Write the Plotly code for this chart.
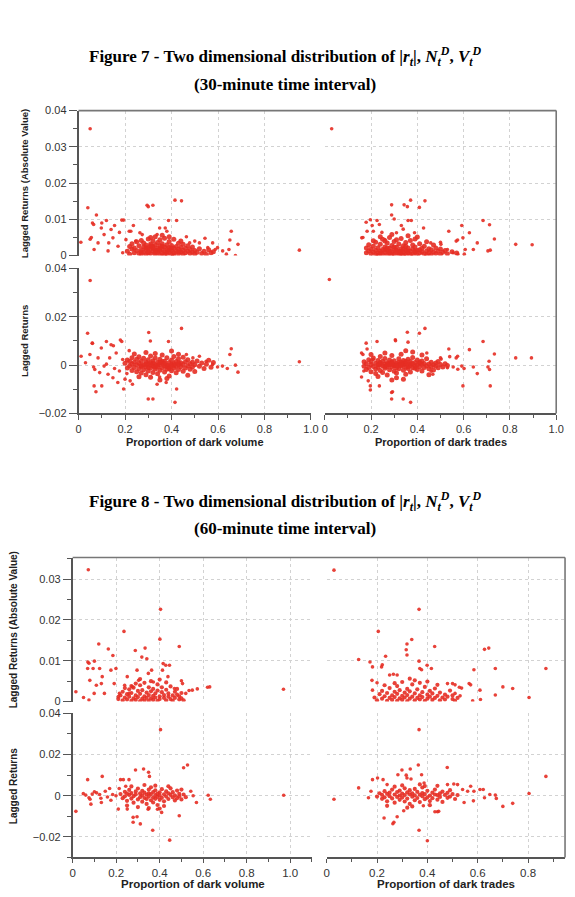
import plotly.graph_objects as go

W, H = 575, 897
RED = "rgb(230,45,35)"

# ---------------- DATA ----------------
# Figure 7 (30-minute), |r| vs proportion of dark volume
f7_vol_abs_out = [
(0.01,0.0037),(0.04,0.0132),(0.05,0.0350),(0.05,0.0045),(0.055,0.0050),(0.06,0.0090),(0.065,0.0086),(0.077,0.0112),(0.067,0.0017),(0.084,0.0035),
(0.098,0.0076),(0.10,0.0090),(0.11,0.0058),(0.12,0.0097),(0.127,0.0013),(0.13,0.0035),(0.14,0.0072),(0.148,0.0049),(0.155,0.0083),(0.17,0.0026),
(0.176,0.0064),(0.186,0.0098),(0.194,0.0098),(0.19,0.0008),(0.204,0.0044),(0.218,0.0067),(0.225,0.0067),(0.236,0.0083),(0.246,0.0040),(0.264,0.0063),
(0.274,0.0058),(0.295,0.0139),(0.30,0.0135),(0.307,0.0101),(0.32,0.0139),(0.338,0.0058),(0.349,0.0076),(0.373,0.0076),(0.387,0.0097),(0.38,0.0067),
(0.415,0.0153),(0.443,0.0151),(0.422,0.0097),(0.464,0.0052),(0.478,0.0035),(0.50,0.0040),(0.52,0.0035),(0.544,0.0048),(0.556,0.0022),(0.577,0.0035),
(0.588,0.0017),(0.598,0.0022),(0.62,0.0013),(0.636,0.0004),(0.647,0.0017),(0.651,0.0043),(0.657,0.0067),(0.675,0.0),(0.686,0.0031),(0.95,0.0015),
]
f7_vol_abs_core = [
(0.21,0.0012),(0.22,0.0025),(0.22,0.0004),(0.23,0.0018),(0.23,0.0033),(0.24,0.0008),(0.24,0.0021),(0.25,0.0014),(0.25,0.0038),(0.26,0.0006),
(0.26,0.0027),(0.27,0.0016),(0.27,0.0042),(0.28,0.0009),(0.28,0.0024),(0.28,0.0035),(0.29,0.0003),(0.29,0.0017),(0.29,0.0029),(0.30,0.0011),
(0.30,0.0022),(0.30,0.0046),(0.31,0.0006),(0.31,0.0019),(0.31,0.0032),(0.32,0.0013),(0.32,0.0026),(0.32,0.0041),(0.33,0.0004),(0.33,0.0016),
(0.33,0.0030),(0.33,0.0052),(0.34,0.0009),(0.34,0.0021),(0.34,0.0036),(0.35,0.0002),(0.35,0.0014),(0.35,0.0027),(0.35,0.0044),(0.36,0.0007),
(0.36,0.0019),(0.36,0.0033),(0.37,0.0011),(0.37,0.0024),(0.37,0.0048),(0.38,0.0005),(0.38,0.0017),(0.38,0.0030),(0.39,0.0009),(0.39,0.0022),
(0.39,0.0039),(0.40,0.0003),(0.40,0.0014),(0.40,0.0028),(0.41,0.0008),(0.41,0.0020),(0.41,0.0045),(0.42,0.0012),(0.42,0.0025),(0.43,0.0005),
(0.43,0.0018),(0.43,0.0034),(0.44,0.0010),(0.44,0.0023),(0.45,0.0004),(0.45,0.0015),(0.45,0.0031),(0.46,0.0008),(0.46,0.0020),(0.47,0.0012),
(0.47,0.0027),(0.48,0.0006),(0.48,0.0017),(0.49,0.0010),(0.49,0.0024),(0.50,0.0004),(0.50,0.0014),(0.51,0.0009),(0.52,0.0019),(0.53,0.0006),
(0.54,0.0012),(0.55,0.0003),(0.56,0.0016),(0.57,0.0008),(0.58,0.0011),(0.36,0.0056),(0.31,0.0050),(0.39,0.0052),(0.27,0.0005),(0.44,0.0040),
(0.30,0.0008),(0.32,0.0020),(0.34,0.0014),(0.36,0.0026),(0.38,0.0011),(0.33,0.0009),(0.35,0.0019),(0.37,0.0003),(0.31,0.0027),(0.39,0.0016),
(0.41,0.0002),(0.29,0.0022),(0.27,0.0010),(0.43,0.0011),(0.40,0.0021),
]

# Figure 7, r vs proportion of dark volume
f7_vol_ret_out = [
(0.011,0.0037),(0.039,0.0132),(0.05,0.0350),(0.049,0.0044),(0.059,0.0091),(0.065,-0.0008),(0.07,-0.0018),(0.067,-0.0086),(0.075,-0.0110),(0.084,0.0030),
(0.091,-0.0031),(0.098,0.0071),(0.10,-0.0086),(0.11,-0.0004),(0.12,0.0004),(0.12,0.0098),(0.127,-0.0038),(0.134,0.0030),(0.14,0.0084),(0.148,-0.0052),
(0.155,-0.0014),(0.162,0.0050),(0.169,-0.0072),(0.176,-0.0024),(0.186,0.0098),(0.19,0.0023),(0.194,-0.0099),(0.20,-0.0058),(0.208,-0.0035),(0.218,0.0060),
(0.222,-0.0065),(0.232,-0.0079),(0.302,0.0135),(0.309,0.0100),(0.30,-0.0140),(0.32,-0.0140),(0.387,0.0098),(0.443,0.0152),(0.415,-0.0154),(0.422,-0.0099),
(0.377,-0.0072),(0.338,-0.0079),(0.349,-0.0049),(0.464,0.0044),(0.492,0.0030),(0.52,0.0037),(0.549,0.0016),(0.577,0.0003),(0.598,-0.0008),(0.619,-0.0004),
(0.64,-0.0014),(0.651,0.0044),(0.657,0.0068),(0.675,0.0),(0.686,-0.0029),(0.95,0.0014),(0.18,0.0104),(0.15,0.0080),(0.06,0.0090),(0.03,0.0010),
]
f7_vol_ret_core = [
(0.20,0.0008),(0.21,-0.0012),(0.21,0.0021),(0.22,-0.0004),(0.22,0.0015),(0.23,-0.0022),(0.23,0.0005),(0.23,0.0031),(0.24,-0.0010),(0.24,0.0012),
(0.25,-0.0027),(0.25,0.0002),(0.25,0.0024),(0.26,-0.0015),(0.26,0.0009),(0.26,0.0035),(0.27,-0.0006),(0.27,0.0017),(0.27,-0.0033),(0.28,0.0001),
(0.28,-0.0019),(0.28,0.0028),(0.29,-0.0008),(0.29,0.0013),(0.29,-0.0040),(0.30,0.0004),(0.30,-0.0024),(0.30,0.0022),(0.31,-0.0012),(0.31,0.0010),
(0.31,0.0038),(0.32,-0.0003),(0.32,-0.0030),(0.32,0.0018),(0.33,0.0002),(0.33,-0.0016),(0.33,0.0029),(0.34,-0.0008),(0.34,0.0012),(0.34,-0.0036),
(0.35,0.0003),(0.35,-0.0021),(0.35,0.0024),(0.36,-0.0011),(0.36,0.0008),(0.36,0.0042),(0.37,-0.0004),(0.37,-0.0028),(0.37,0.0016),(0.38,0.0001),
(0.38,-0.0017),(0.38,0.0031),(0.39,-0.0009),(0.39,0.0011),(0.39,-0.0045),(0.40,0.0004),(0.40,-0.0023),(0.40,0.0021),(0.41,-0.0013),(0.41,0.0007),
(0.41,0.0036),(0.42,-0.0005),(0.42,0.0015),(0.42,-0.0032),(0.43,0.0002),(0.43,-0.0018),(0.43,0.0026),(0.44,-0.0007),(0.44,0.0010),(0.45,-0.0025),
(0.45,0.0003),(0.45,0.0033),(0.46,-0.0012),(0.46,0.0014),(0.47,-0.0003),(0.47,0.0022),(0.48,-0.0017),(0.48,0.0006),(0.49,0.0012),(0.49,-0.0008),
(0.50,0.0002),(0.50,-0.0026),(0.51,0.0017),(0.52,-0.0005),(0.53,0.0009),(0.54,-0.0014),(0.55,0.0004),(0.56,0.0020),(0.57,-0.0009),(0.58,0.0011),
(0.33,0.0048),(0.29,0.0052),(0.38,-0.0055),(0.26,-0.0048),(0.43,0.0045),(0.35,-0.0062),(0.31,-0.0050),(0.40,0.0058),(0.47,-0.0042),(0.24,0.0046),
(0.30,-0.0010),(0.32,0.0009),(0.34,-0.0001),(0.36,0.0015),(0.38,-0.0006),(0.33,-0.0008),(0.35,0.0011),(0.37,0.0007),(0.31,0.0002),(0.39,-0.0015),
(0.41,0.0001),(0.29,0.0005),(0.27,-0.0002),(0.43,0.0009),(0.40,-0.0005),
]

# Figure 7, |r| vs proportion of dark trades
f7_trd_abs_out = [
(0.03,0.0350),(0.16,0.0049),(0.165,0.0050),(0.179,0.0092),(0.183,0.0067),(0.197,0.0099),(0.205,0.0083),(0.21,0.0067),(0.226,0.0097),(0.236,0.0086),
(0.247,0.0064),(0.26,0.0044),(0.289,0.0140),(0.289,0.0112),(0.30,0.0101),(0.31,0.0063),(0.331,0.0083),(0.343,0.0140),(0.357,0.0135),(0.36,0.0097),
(0.374,0.0097),(0.371,0.0153),(0.339,0.0073),(0.388,0.0063),(0.409,0.0133),(0.433,0.0151),(0.427,0.0076),(0.458,0.0035),(0.50,0.0037),(0.502,0.0031),
(0.536,0.0067),(0.568,0.0040),(0.574,0.0043),(0.592,0.0083),(0.597,0.0049),(0.607,0.0017),(0.603,0.0004),(0.625,0.0063),(0.642,0.0017),(0.659,0.0035),
(0.684,0.0097),(0.705,0.0013),(0.712,0.0085),(0.715,0.0015),(0.733,0.0046),(0.825,0.0031),(0.896,0.0030),(0.53,0.0017),(0.555,0.0008),(0.575,0.0004),
]
f7_trd_abs_core = [
(0.18,0.0008),(0.18,0.0021),(0.19,0.0013),(0.19,0.0030),(0.20,0.0005),(0.20,0.0018),(0.21,0.0010),(0.21,0.0026),(0.22,0.0003),(0.22,0.0015),
(0.22,0.0037),(0.23,0.0008),(0.23,0.0022),(0.24,0.0012),(0.24,0.0031),(0.25,0.0004),(0.25,0.0017),(0.25,0.0045),(0.26,0.0009),(0.26,0.0024),
(0.27,0.0002),(0.27,0.0014),(0.27,0.0035),(0.28,0.0007),(0.28,0.0020),(0.28,0.0050),(0.29,0.0011),(0.29,0.0028),(0.30,0.0004),(0.30,0.0016),
(0.30,0.0039),(0.31,0.0009),(0.31,0.0023),(0.32,0.0002),(0.32,0.0013),(0.32,0.0032),(0.33,0.0006),(0.33,0.0019),(0.33,0.0047),(0.34,0.0010),
(0.34,0.0027),(0.35,0.0003),(0.35,0.0015),(0.35,0.0036),(0.36,0.0008),(0.36,0.0021),(0.37,0.0012),(0.37,0.0042),(0.38,0.0004),(0.38,0.0018),
(0.38,0.0029),(0.39,0.0009),(0.39,0.0024),(0.40,0.0002),(0.40,0.0014),(0.40,0.0051),(0.41,0.0007),(0.41,0.0033),(0.42,0.0011),(0.42,0.0020),
(0.43,0.0005),(0.43,0.0026),(0.44,0.0013),(0.44,0.0038),(0.45,0.0008),(0.45,0.0019),(0.46,0.0003),(0.46,0.0016),(0.47,0.0010),(0.47,0.0029),
(0.48,0.0006),(0.48,0.0021),(0.49,0.0012),(0.50,0.0004),(0.50,0.0018),(0.51,0.0009),(0.52,0.0014),(0.53,0.0005),(0.55,0.0011),(0.57,0.0007),
(0.29,0.0058),(0.36,0.0055),(0.24,0.0052),(0.31,0.0044),(0.34,0.0001),(0.26,0.0040),(0.39,0.0046),(0.21,0.0041),(0.44,0.0002),(0.23,0.0001),
(0.26,0.0016),(0.28,0.0012),(0.30,0.0024),(0.32,0.0008),(0.34,0.0018),(0.36,0.0013),(0.24,0.0007),(0.29,0.0003),(0.31,0.0015),(0.33,0.0011),
(0.35,0.0026),(0.37,0.0002),(0.39,0.0012),(0.27,0.0021),(0.41,0.0016),
]

# Figure 7, r vs proportion of dark trades
f7_trd_ret_out = [
(0.02,0.0354),(0.159,0.0050),(0.165,0.0044),(0.159,-0.0049),(0.169,-0.0024),(0.179,0.0091),(0.188,-0.0065),(0.197,-0.0086),(0.197,-0.0103),(0.226,0.0098),
(0.236,-0.0086),(0.21,0.0023),(0.289,-0.0113),(0.289,-0.0140),(0.306,0.0101),(0.339,-0.0140),(0.357,0.0136),(0.36,0.0095),(0.371,-0.0154),(0.409,0.0132),
(0.433,0.0152),(0.441,0.0050),(0.46,-0.0025),(0.467,-0.0038),(0.50,0.0030),(0.503,0.0025),(0.536,0.0067),(0.568,0.0030),(0.574,0.0037),(0.592,-0.0004),
(0.597,-0.0086),(0.602,-0.0014),(0.625,0.0064),(0.642,-0.0008),(0.659,-0.0035),(0.684,0.0098),(0.705,-0.0008),(0.71,0.0016),(0.712,-0.0018),(0.715,-0.0086),
(0.733,0.0046),(0.825,0.0030),(0.893,0.0030),(0.53,-0.0011),(0.555,-0.0008),(0.575,-0.0017),(0.183,0.0067),(0.305,0.0105),(0.293,-0.0110),(0.54,0.0035),
]
f7_trd_ret_core = [
(0.17,-0.0005),(0.17,0.0014),(0.18,-0.0018),(0.18,0.0006),(0.19,0.0022),(0.19,-0.0010),(0.20,0.0003),(0.20,-0.0027),(0.20,0.0015),(0.21,-0.0006),
(0.21,0.0030),(0.22,0.0008),(0.22,-0.0016),(0.22,-0.0035),(0.23,0.0002),(0.23,0.0019),(0.23,-0.0009),(0.24,0.0011),(0.24,-0.0022),(0.24,0.0036),
(0.25,-0.0003),(0.25,0.0016),(0.25,-0.0030),(0.26,0.0005),(0.26,-0.0013),(0.26,0.0027),(0.27,-0.0006),(0.27,0.0010),(0.27,-0.0041),(0.28,0.0002),
(0.28,0.0021),(0.28,-0.0019),(0.29,-0.0008),(0.29,0.0013),(0.29,0.0040),(0.30,0.0001),(0.30,-0.0025),(0.30,0.0018),(0.31,-0.0011),(0.31,0.0007),
(0.31,-0.0033),(0.32,0.0004),(0.32,0.0026),(0.32,-0.0015),(0.33,-0.0004),(0.33,0.0012),(0.33,0.0045),(0.34,0.0000),(0.34,-0.0021),(0.34,0.0019),
(0.35,-0.0009),(0.35,0.0008),(0.35,-0.0038),(0.36,0.0003),(0.36,0.0024),(0.36,-0.0014),(0.37,-0.0002),(0.37,0.0015),(0.37,-0.0028),(0.38,0.0006),
(0.38,-0.0011),(0.38,0.0032),(0.39,-0.0004),(0.39,0.0011),(0.40,-0.0018),(0.40,0.0002),(0.40,0.0021),(0.41,-0.0007),(0.41,0.0009),(0.42,-0.0024),
(0.42,0.0004),(0.42,0.0017),(0.43,-0.0010),(0.43,0.0007),(0.44,-0.0003),(0.44,0.0026),(0.45,-0.0015),(0.45,0.0005),(0.46,0.0012),(0.46,-0.0006),
(0.47,0.0002),(0.47,-0.0020),(0.48,0.0009),(0.48,-0.0004),(0.49,0.0015),(0.49,-0.0011),(0.50,0.0003),(0.51,-0.0008),(0.52,0.0006),(0.53,-0.0002),
(0.26,0.0050),(0.31,-0.0052),(0.38,0.0054),(0.23,-0.0047),(0.35,0.0060),(0.29,-0.0062),(0.42,0.0042),(0.20,0.0044),(0.45,-0.0040),(0.34,-0.0058),
(0.26,-0.0006),(0.28,0.0009),(0.30,-0.0003),(0.32,0.0011),(0.34,0.0008),(0.36,-0.0007),(0.24,0.0003),(0.29,0.0005),(0.31,-0.0002),(0.33,0.0001),
(0.35,0.0016),(0.37,0.0006),(0.39,-0.0013),(0.27,0.0002),(0.41,0.0013),
]

# Figure 8 (60-minute), |r| vs proportion of dark volume
f8_vol_abs_out = [
(0.015,0.0024),(0.05,0.0010),(0.07,0.0097),(0.075,0.0094),(0.069,0.0081),(0.072,0.0323),(0.079,0.0052),(0.075,0.0004),(0.094,0.0081),(0.10,0.0099),
(0.109,0.0040),(0.099,0.0020),(0.12,0.0141),(0.124,0.0081),(0.132,0.0044),(0.136,0.0061),(0.146,0.0020),(0.164,0.0129),(0.176,0.0077),(0.185,0.0113),
(0.191,0.0044),(0.199,0.0081),(0.21,0.0012),(0.215,0.0020),(0.236,0.0172),(0.239,0.0040),(0.251,0.0061),(0.259,0.0020),(0.274,0.0036),(0.288,0.0125),
(0.296,0.0077),(0.303,0.0052),(0.318,0.0109),(0.333,0.0131),(0.341,0.0105),(0.348,0.0069),(0.363,0.0077),(0.371,0.0048),(0.404,0.0226),(0.401,0.0153),
(0.416,0.0093),(0.428,0.0089),(0.445,0.0089),(0.413,0.0077),(0.438,0.0061),(0.49,0.0135),(0.50,0.0051),(0.505,0.0044),(0.468,0.0032),(0.52,0.0020),
(0.535,0.0027),(0.55,0.0028),(0.573,0.0031),(0.62,0.0035),(0.63,0.0036),(0.969,0.0030),
]
f8_vol_abs_core = [
(0.21,0.0006),(0.22,0.0015),(0.23,0.0003),(0.23,0.0024),(0.24,0.0010),(0.25,0.0018),(0.25,0.0005),(0.26,0.0030),(0.26,0.0012),(0.27,0.0002),
(0.27,0.0021),(0.28,0.0008),(0.28,0.0034),(0.29,0.0015),(0.29,0.0004),(0.30,0.0026),(0.30,0.0011),(0.31,0.0001),(0.31,0.0019),(0.31,0.0040),
(0.32,0.0007),(0.32,0.0028),(0.33,0.0013),(0.33,0.0003),(0.34,0.0022),(0.34,0.0009),(0.35,0.0035),(0.35,0.0016),(0.35,0.0002),(0.36,0.0025),
(0.36,0.0008),(0.37,0.0014),(0.37,0.0031),(0.37,0.0004),(0.38,0.0020),(0.38,0.0010),(0.39,0.0002),(0.39,0.0027),(0.39,0.0042),(0.40,0.0013),
(0.40,0.0006),(0.41,0.0023),(0.41,0.0035),(0.42,0.0009),(0.42,0.0016),(0.43,0.0003),(0.43,0.0029),(0.44,0.0012),(0.44,0.0020),(0.45,0.0006),
(0.45,0.0037),(0.46,0.0015),(0.46,0.0002),(0.47,0.0024),(0.47,0.0009),(0.48,0.0017),(0.48,0.0031),(0.49,0.0005),(0.49,0.0013),(0.50,0.0021),
(0.50,0.0008),(0.51,0.0003),(0.33,0.0046),(0.29,0.0044),(0.36,0.0050),(0.27,0.0038),(0.43,0.0047),(0.24,0.0033),(0.40,0.0054),(0.31,0.0055),
]

# Figure 8, r vs proportion of dark volume
f8_vol_ret_out = [
(0.015,-0.0076),(0.049,0.0010),(0.069,0.0078),(0.075,-0.0010),(0.08,-0.0017),(0.084,-0.0041),(0.10,0.0019),(0.11,0.0014),(0.124,0.0006),(0.132,-0.0033),
(0.136,0.0094),(0.15,0.0022),(0.16,-0.0006),(0.17,0.0035),(0.176,-0.0022),(0.184,0.0006),(0.199,0.0000),(0.21,-0.0065),(0.214,0.0035),(0.22,0.0078),
(0.233,0.0078),(0.244,0.0046),(0.251,-0.0065),(0.259,0.0078),(0.278,-0.0105),(0.278,-0.0129),(0.289,0.0125),(0.296,-0.0102),(0.311,-0.0137),(0.326,0.0130),
(0.349,0.0114),(0.353,0.0094),(0.368,-0.0168),(0.404,0.0321),(0.409,-0.0081),(0.446,-0.0216),(0.49,-0.0097),(0.51,0.0136),(0.528,0.0149),(0.543,0.0022),
(0.554,0.0000),(0.569,-0.0033),(0.623,0.0002),(0.633,-0.0017),(0.97,0.0002),(0.09,0.0008),(0.13,-0.0012),(0.06,0.0003),(0.39,-0.0066),(0.347,-0.0066),
]
f8_vol_ret_core = [
(0.22,0.0008),(0.23,-0.0012),(0.24,0.0019),(0.24,-0.0003),(0.25,0.0010),(0.25,-0.0025),(0.26,0.0004),(0.26,0.0028),(0.27,-0.0014),(0.27,0.0013),
(0.28,-0.0002),(0.28,-0.0034),(0.29,0.0021),(0.29,0.0006),(0.30,-0.0018),(0.30,0.0035),(0.31,-0.0007),(0.31,0.0011),(0.32,-0.0029),(0.32,0.0002),
(0.32,0.0024),(0.33,-0.0011),(0.33,0.0015),(0.34,-0.0040),(0.34,0.0005),(0.34,-0.0016),(0.35,0.0030),(0.35,-0.0004),(0.35,0.0012),(0.36,-0.0022),
(0.36,0.0008),(0.36,0.0041),(0.37,-0.0009),(0.37,0.0018),(0.37,-0.0033),(0.38,0.0003),(0.38,-0.0015),(0.38,0.0026),(0.39,-0.0006),(0.39,0.0010),
(0.39,-0.0045),(0.40,0.0016),(0.40,-0.0020),(0.40,0.0001),(0.41,0.0032),(0.41,-0.0010),(0.42,0.0007),(0.42,-0.0027),(0.43,0.0021),(0.43,-0.0004),
(0.44,0.0012),(0.44,-0.0016),(0.45,0.0004),(0.45,0.0036),(0.46,-0.0008),(0.46,0.0017),(0.47,-0.0023),(0.47,0.0002),(0.48,0.0025),(0.48,-0.0012),
(0.49,0.0009),(0.49,-0.0003),(0.50,0.0030),(0.50,-0.0018),(0.51,0.0006),(0.52,-0.0007),(0.33,0.0052),(0.30,-0.0055),(0.38,0.0049),(0.42,-0.0050),
(0.27,0.0045),(0.35,-0.0060),(0.44,0.0046),(0.25,-0.0048),(0.40,-0.0062),
]

# Figure 8, |r| vs proportion of dark trades
f8_trd_abs_out = [
(0.029,0.0322),(0.367,0.0226),(0.205,0.0172),(0.338,0.0152),(0.319,0.0141),(0.316,0.0127),(0.319,0.0114),(0.429,0.0135),(0.627,0.0128),(0.644,0.0131),
(0.127,0.0103),(0.172,0.0097),(0.182,0.0085),(0.221,0.0090),(0.234,0.0111),(0.218,0.0085),(0.367,0.0099),(0.37,0.0081),(0.377,0.0078),(0.399,0.0089),
(0.416,0.0081),(0.585,0.0078),(0.67,0.0081),(0.871,0.0081),(0.18,0.0052),(0.20,0.0046),(0.182,0.0028),(0.25,0.0065),(0.265,0.0067),(0.28,0.0065),
(0.48,0.0044),(0.50,0.0044),(0.51,0.0041),(0.527,0.0035),(0.536,0.0033),(0.566,0.0044),(0.572,0.0041),(0.609,0.0028),(0.611,0.0005),(0.58,0.0002),
(0.67,0.0016),(0.70,0.0036),(0.739,0.0032),(0.804,0.0010),(0.51,0.0020),(0.53,0.0014),
]
f8_trd_abs_core = [
(0.19,0.0010),(0.20,0.0003),(0.21,0.0018),(0.22,0.0007),(0.22,0.0026),(0.23,0.0013),(0.24,0.0002),(0.24,0.0021),(0.25,0.0009),(0.25,0.0033),
(0.26,0.0015),(0.26,0.0004),(0.27,0.0024),(0.27,0.0011),(0.28,0.0002),(0.28,0.0019),(0.28,0.0038),(0.29,0.0008),(0.29,0.0028),(0.30,0.0014),
(0.30,0.0004),(0.31,0.0022),(0.31,0.0010),(0.32,0.0031),(0.32,0.0001),(0.32,0.0016),(0.33,0.0007),(0.33,0.0025),(0.34,0.0012),(0.34,0.0042),
(0.35,0.0003),(0.35,0.0020),(0.36,0.0009),(0.36,0.0030),(0.37,0.0015),(0.37,0.0005),(0.38,0.0023),(0.38,0.0011),(0.39,0.0002),(0.39,0.0036),
(0.40,0.0017),(0.40,0.0007),(0.41,0.0026),(0.41,0.0012),(0.42,0.0004),(0.42,0.0020),(0.43,0.0009),(0.43,0.0032),(0.44,0.0014),(0.45,0.0003),
(0.45,0.0022),(0.46,0.0010),(0.47,0.0017),(0.47,0.0005),(0.48,0.0012),(0.49,0.0027),(0.50,0.0006),(0.50,0.0015),(0.51,0.0002),(0.52,0.0009),
(0.30,0.0048),(0.35,0.0052),(0.27,0.0045),(0.40,0.0049),(0.33,0.0056),(0.23,0.0040),(0.44,0.0041),(0.37,0.0046),
]

# Figure 8, r vs proportion of dark trades
f8_trd_ret_out = [
(0.029,-0.0017),(0.127,0.0038),(0.166,-0.0010),(0.182,0.0078),(0.176,0.0022),(0.202,0.0086),(0.224,0.0078),(0.228,-0.0108),(0.24,0.0054),(0.263,-0.0136),
(0.267,-0.0129),(0.28,-0.0102),(0.283,0.0102),(0.299,0.0125),(0.306,-0.0073),(0.316,0.0100),(0.319,0.0086),(0.332,0.0130),(0.335,0.0081),(0.364,0.0149),
(0.367,-0.0168),(0.367,0.0321),(0.377,0.0102),(0.387,0.0062),(0.40,-0.0219),(0.384,-0.0049),(0.43,-0.0078),(0.44,-0.0078),(0.445,-0.0076),(0.479,0.0137),
(0.48,0.0054),(0.505,0.0057),(0.52,0.0054),(0.54,0.0030),(0.56,0.0022),(0.546,-0.0033),(0.572,0.0046),(0.585,0.0022),(0.583,-0.0025),(0.609,0.0030),
(0.622,0.0030),(0.627,-0.0010),(0.648,0.0006),(0.67,0.0003),(0.674,-0.0013),(0.70,-0.0052),(0.739,-0.0037),(0.804,0.0011),(0.871,0.0094),
]
f8_trd_ret_core = [
(0.20,-0.0004),(0.21,0.0012),(0.22,-0.0015),(0.22,0.0004),(0.23,0.0022),(0.23,-0.0008),(0.24,0.0009),(0.24,-0.0027),(0.25,0.0015),(0.25,-0.0002),
(0.26,0.0030),(0.26,-0.0013),(0.27,0.0006),(0.27,-0.0034),(0.28,0.0018),(0.28,-0.0006),(0.29,0.0001),(0.29,0.0025),(0.29,-0.0020),(0.30,0.0010),
(0.30,-0.0009),(0.31,0.0036),(0.31,-0.0028),(0.31,0.0003),(0.32,0.0016),(0.32,-0.0014),(0.33,0.0007),(0.33,-0.0040),(0.33,0.0027),(0.34,-0.0005),
(0.34,0.0012),(0.35,-0.0022),(0.35,0.0002),(0.35,0.0033),(0.36,-0.0011),(0.36,0.0019),(0.37,0.0005),(0.37,-0.0031),(0.38,0.0013),(0.38,-0.0003),
(0.38,0.0040),(0.39,-0.0017),(0.39,0.0008),(0.40,0.0024),(0.40,-0.0008),(0.41,0.0001),(0.41,-0.0026),(0.42,0.0015),(0.42,-0.0012),(0.43,0.0006),
(0.43,0.0030),(0.44,-0.0019),(0.44,0.0003),(0.45,0.0011),(0.45,-0.0006),(0.46,0.0020),(0.46,-0.0030),(0.47,0.0004),(0.48,-0.0010),(0.48,0.0014),
(0.49,0.0027),(0.49,-0.0004),(0.50,0.0008),(0.51,-0.0016),(0.52,0.0003),(0.30,0.0050),(0.34,-0.0052),(0.27,0.0044),(0.37,0.0055),(0.41,-0.0046),
(0.24,-0.0049),(0.44,0.0048),(0.32,-0.0058),(0.39,0.0047),
]

# Tick labels
x_ticks_10 = [0, 0.2, 0.4, 0.6, 0.8, 1.0]
x_labels_10 = ["0", "0.2", "0.4", "0.6", "0.8", "1.0"]
x_ticks_08 = [0, 0.2, 0.4, 0.6, 0.8]
x_labels_08 = ["0", "0.2", "0.4", "0.6", "0.8"]
y_abs7_ticks = [0, 0.01, 0.02, 0.03, 0.04]
y_abs7_labels = ["0", "0.01", "0.02", "0.03", "0.04"]
y_abs8_ticks = [0, 0.01, 0.02, 0.03]
y_abs8_labels = ["0", "0.01", "0.02", "0.03"]
y_ret_ticks = [-0.02, 0, 0.02, 0.04]
y_ret_labels = ["\u22120.02", "0", "0.02", "0.04"]

fig7_title = ("<b>Figure 7 - Two dimensional distribution of |<i>r</i><sub><i>t</i></sub>|, "
              "<i>N</i><sub><i>t</i></sub><sup><i>D</i></sup>, <i>V</i><sub><i>t</i></sub><sup><i>D</i></sup></b>")
fig7_sub = "<b>(30-minute time interval)</b>"
fig8_title = ("<b>Figure 8 - Two dimensional distribution of |<i>r</i><sub><i>t</i></sub>|, "
              "<i>N</i><sub><i>t</i></sub><sup><i>D</i></sup>, <i>V</i><sub><i>t</i></sub><sup><i>D</i></sup></b>")
fig8_sub = "<b>(60-minute time interval)</b>"
ytitle_abs = "Lagged Returns (Absolute Value)"
ytitle_ret = "Lagged Returns"
xtitle_vol = "Proportion of dark volume"
xtitle_trd = "Proportion of dark trades"

# ---------------- LAYOUT ----------------
def px_x(p): return p / W
def px_y(p): return 1 - p / H

AX = "#555555"
GRID = "#d2d2d2"
TICKC = "#333333"
SANS = "Liberation Sans, Arial, sans-serif"
SERIF = "Liberation Serif, Times New Roman, serif"

panels = [
    # outliers, core, xdom(px), ydom(px top,bottom), xrange, yrange, left col?, bottom row?, xticks, xlabels, xminor, yticks, ylabels, yminor, x font, y font, core size, x ticklen
    (f7_vol_abs_out, f7_vol_abs_core, (77, 314), (106, 253), [0, 1.0], [0, 0.04], True, False, x_ticks_10, x_labels_10, [0.1,0.3,0.5,0.7,0.9], y_abs7_ticks, y_abs7_labels, [0.005,0.015,0.025,0.035], 11, 11, 5, 5),
    (f7_trd_abs_out, f7_trd_abs_core, (328, 564), (106, 253), [0, 1.0], [0, 0.04], False, False, x_ticks_10, x_labels_10, [0.1,0.3,0.5,0.7,0.9], y_abs7_ticks, y_abs7_labels, [0.005,0.015,0.025,0.035], 11, 11, 5, 5),
    (f7_vol_ret_out, f7_vol_ret_core, (77, 314), (266, 413), [0, 1.0], [-0.02, 0.04], True, True, x_ticks_10, x_labels_10, [0.1,0.3,0.5,0.7,0.9], y_ret_ticks, y_ret_labels, [-0.01,0.01,0.03], 11, 11, 5, 5),
    (f7_trd_ret_out, f7_trd_ret_core, (328, 564), (266, 413), [0, 1.0], [-0.02, 0.04], False, True, x_ticks_10, x_labels_10, [0.1,0.3,0.5,0.7,0.9], y_ret_ticks, y_ret_labels, [-0.01,0.01,0.03], 11, 11, 5, 5),
    (f8_vol_abs_out, f8_vol_abs_core, (71, 315), (559, 705), [0, 1.1], [0, 0.0353], True, False, x_ticks_10, x_labels_10, [0.1,0.3,0.5,0.7,0.9,1.1], y_abs8_ticks, y_abs8_labels, [0.005,0.015,0.025,0.035], 11.5, 11, 4.2, 4),
    (f8_trd_abs_out, f8_trd_abs_core, (330, 573), (559, 705), [0, 0.947], [0, 0.0353], False, False, x_ticks_08, x_labels_08, [0.1,0.3,0.5,0.7,0.9], y_abs8_ticks, y_abs8_labels, [0.005,0.015,0.025,0.035], 11.5, 11, 4.2, 4),
    (f8_vol_ret_out, f8_vol_ret_core, (71, 315), (717, 863), [0, 1.1], [-0.03, 0.04], True, True, x_ticks_10, x_labels_10, [0.1,0.3,0.5,0.7,0.9,1.1], y_ret_ticks, y_ret_labels, [-0.03,-0.01,0.01,0.03], 11.5, 11, 4.2, 4),
    (f8_trd_ret_out, f8_trd_ret_core, (330, 573), (717, 863), [0, 0.947], [-0.03, 0.04], False, True, x_ticks_08, x_labels_08, [0.1,0.3,0.5,0.7,0.9], y_ret_ticks, y_ret_labels, [-0.03,-0.01,0.01,0.03], 11.5, 11, 4.2, 4),
]

fig = go.Figure()
layout = {}
for i, (outl, core, xdp, ydp, xr, yr, leftcol, bottomrow, xt, xl, xm, yt, yl, ym, xfs, yfs, csize, xtl) in enumerate(panels, start=1):
    sfx = "" if i == 1 else str(i)
    for pts, size in ((core, csize), (outl, 3.6)):
        fig.add_trace(go.Scatter(
            x=[p[0] for p in pts], y=[p[1] for p in pts], mode="markers",
            xaxis="x" + sfx, yaxis="y" + sfx,
            marker=dict(color=RED, size=size, opacity=0.9, line=dict(width=0)),
            showlegend=False, hoverinfo="skip",
        ))
    layout["xaxis" + sfx] = dict(
        domain=[px_x(xdp[0]), px_x(xdp[1])], range=xr, anchor="y" + sfx,
        tickmode="array", tickvals=xt, ticktext=xl,
        showgrid=True, gridcolor=GRID, griddash="dot", gridwidth=1, zeroline=False,
        showline=bottomrow, linecolor=AX, linewidth=1.6,
        ticks="outside" if bottomrow else "", ticklen=xtl, tickwidth=1.3, tickcolor=AX,
        showticklabels=bottomrow, tickfont=dict(family=SANS, size=xfs, color=TICKC),
        minor=dict(tickvals=xm, ticks="outside" if bottomrow else "", ticklen=3,
                   tickwidth=1.2, tickcolor=AX, showgrid=False),
        fixedrange=True,
    )
    layout["yaxis" + sfx] = dict(
        domain=[px_y(ydp[1]), px_y(ydp[0])], range=yr, anchor="x" + sfx,
        tickmode="array", tickvals=yt, ticktext=yl,
        showgrid=True, gridcolor=GRID, griddash="dot", gridwidth=1, zeroline=False,
        showline=leftcol, linecolor=AX, linewidth=1.6,
        ticks="outside" if leftcol else "", ticklen=8, tickwidth=1.3, tickcolor=AX,
        showticklabels=leftcol, tickfont=dict(family=SANS, size=yfs, color=TICKC),
        minor=dict(tickvals=ym, ticks="outside" if leftcol else "", ticklen=4,
                   tickwidth=1.2, tickcolor=AX, showgrid=False),
        fixedrange=True,
    )

FRAME = "#777777"
shapes = [
    dict(type="line", xref="paper", yref="paper", x0=px_x(77), x1=px_x(564), y0=px_y(106), y1=px_y(106), line=dict(color=FRAME, width=1.6)),
    dict(type="line", xref="paper", yref="paper", x0=px_x(564), x1=px_x(564), y0=px_y(106), y1=px_y(413), line=dict(color=FRAME, width=1.6)),
    dict(type="line", xref="paper", yref="paper", x0=px_x(71), x1=px_x(573), y0=px_y(559), y1=px_y(559), line=dict(color=FRAME, width=1.6)),
    dict(type="line", xref="paper", yref="paper", x0=px_x(573), x1=px_x(573), y0=px_y(559), y1=px_y(863), line=dict(color=FRAME, width=1.6)),
]

def ann(text, x, y, size, family, angle=0, color="#111111", yanchor="middle"):
    return dict(text=text, x=px_x(x), y=px_y(y), xref="paper", yref="paper",
                xanchor="center", yanchor=yanchor, showarrow=False, textangle=angle,
                borderpad=0, font=dict(family=family, size=size, color=color))

annotations = [
    ann(fig7_title, 288, 51, 17, SERIF, color="#000000"),
    ann(fig7_sub, 288, 80, 17, SERIF, color="#000000"),
    ann(fig8_title, 288, 502, 17, SERIF, color="#000000"),
    ann(fig8_sub, 288, 530, 17, SERIF, color="#000000"),
    ann("<b>" + ytitle_abs + "</b>", 22, 180, 9.5, SANS, -90, "#222222"),
    ann("<b>" + ytitle_ret + "</b>", 22, 340, 9.5, SANS, -90, "#222222"),
    ann("<b>" + xtitle_vol + "</b>", 196, 442, 11, SANS, 0, "#222222"),
    ann("<b>" + xtitle_trd + "</b>", 447, 442, 11, SANS, 0, "#222222"),
    ann("<b>" + ytitle_abs + "</b>", 11, 632, 10, SANS, -90, "#222222"),
    ann("<b>" + ytitle_ret + "</b>", 11, 790, 10, SANS, -90, "#222222"),
    ann("<b>" + xtitle_vol + "</b>", 194, 897, 11.5, SANS, 0, "#222222", "bottom"),
    ann("<b>" + xtitle_trd + "</b>", 452, 897, 11.5, SANS, 0, "#222222", "bottom"),
]

fig.update_layout(
    width=W, height=H, margin=dict(l=0, r=0, t=0, b=0),
    paper_bgcolor="white", plot_bgcolor="white",
    shapes=shapes, annotations=annotations, showlegend=False,
    **layout,
)

fig.write_html("out.html", config={"displayModeBar": False})
